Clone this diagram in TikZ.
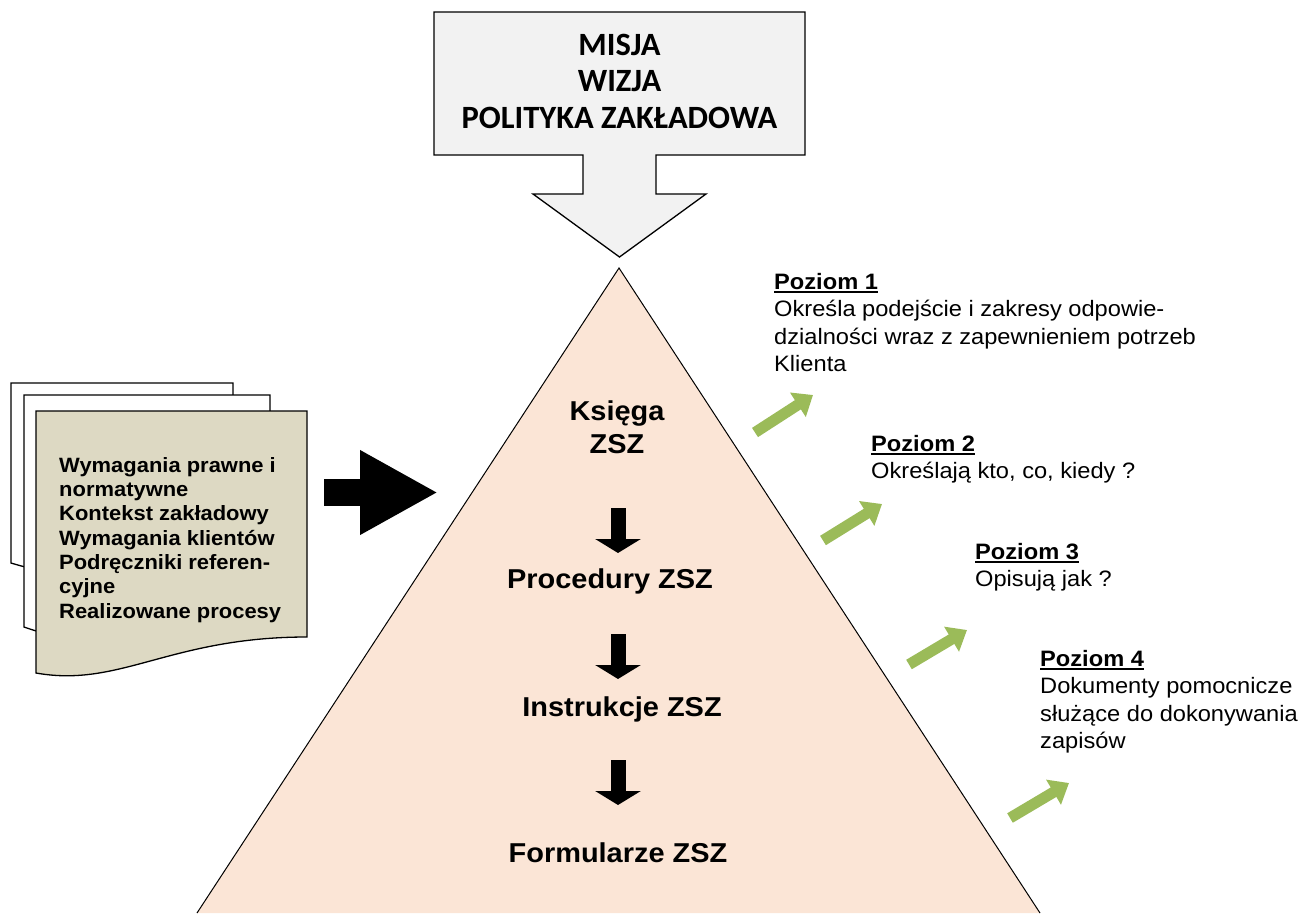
\documentclass[tikz,border=0pt]{standalone}
\usepackage{fontspec}
\setmainfont{Liberation Sans}[FakeStretch=1.06]
\newfontfamily\calibri{Carlito}
\usetikzlibrary{arrows.meta,positioning}
\definecolor{boxgray}{HTML}{F2F2F2}
\definecolor{peach}{HTML}{FBE5D6}
\definecolor{doctan}{HTML}{DDD9C3}
\definecolor{lvlgreen}{HTML}{9BBB59}
\newcommand{\naglowek}[1]{\setbox0=\hbox{\bfseries #1}\rlap{\rule[-3.5pt]{\wd0}{2pt}}\box0}

\begin{document}
\begin{tikzpicture}[x=1pt,y=-1pt,
  level/.style={anchor=north west,inner sep=0pt,align=left,font=\fontsize{22.3}{27.5}\selectfont},
  zsz/.style={inner sep=0pt,align=center,font=\fontsize{27.3}{33}\selectfont\bfseries},
  green arrow/.style={color=lvlgreen,line width=11pt,-{Triangle[length=18pt,width=28pt]}},
  down arrow/.style={line width=15pt,-{Triangle[length=14pt,width=45pt]}},
  page/.style={draw,line width=1.3pt}]
  \useasboundingbox (0,0) rectangle (1303,913);

  \path[fill=boxgray,draw,line width=1.3pt] (434,12) -- (805,12) -- (805,155) -- (656,155) -- (656,194)
    -- (706,194) -- (619.5,257) -- (533,194) -- (583,194) -- (583,155) -- (434,155) -- cycle;
  \node[inner sep=0pt,align=center,font=\fontsize{32.5}{36.5}\calibri\bfseries] (misja) at (619.5,81)
    {MISJA\\WIZJA\\POLITYKA ZAKŁADOWA};

  \fill[peach] (619,268) -- (1040,913) -- (197,913) -- cycle;
  \draw[line width=1pt] (197,913) -- (619,268) -- (1040,913);

  \path[page,fill=white] (11,383) -- (233,383) -- (233,538) .. controls (122,538) and (122,597) .. (11,563) -- cycle;
  \path[page,fill=white] (24,395) -- (270,395) -- (270,594) .. controls (147,594) and (147,670) .. (24,627) -- cycle;
  \path[page,fill=doctan] (36,411) -- (307,411) -- (307,637) .. controls (170,637) and (120,688) .. (36,673) -- cycle;
  \node[anchor=north west,inner sep=0pt,align=left,font=\fontsize{20.7}{24.3}\selectfont\bfseries] (doc) at (59,457)
    {Wymagania prawne i\\normatywne\\Kontekst zakładowy\\Wymagania klientów\\Podręczniki referen-\\cyjne\\Realizowane procesy};

  \node[zsz] (ksiega) at (617,427) {Księga\\ZSZ};
  \node[zsz,anchor=base] (proc)  at (610,588) {Procedury ZSZ};
  \node[zsz,anchor=base] (instr) at (622,716) {Instrukcje ZSZ};
  \node[zsz,anchor=base] (form)  at (618,862) {Formularze ZSZ};

  \coordinate (in_a) at (324,492.5);
  \coordinate (in_b) at (438,492.5);
  \draw[line width=27pt,-{Triangle[length=78pt,width=79pt]}] (in_a) -- (in_b);

  \coordinate (d_1a) at (618,508);
  \coordinate (d_1b) at (618,553);
  \coordinate (d_2a) at (618,634);
  \coordinate (d_2b) at (618,679);
  \coordinate (d_3a) at (618,760);
  \coordinate (d_3b) at (618,805);
  \draw[down arrow] (d_1a) -- (d_1b);
  \draw[down arrow] (d_2a) -- (d_2b);
  \draw[down arrow] (d_3a) -- (d_3b);

  \node[level] (poz_1) at (774,273)
    {\naglowek{Poziom 1}\\Określa podejście i zakresy odpowie-\\dzialności wraz z zapewnieniem potrzeb\\Klienta};
  \node[level] (poz_2) at (871,435) {\naglowek{Poziom 2}\\Określają kto, co, kiedy ?};
  \node[level] (poz_3) at (975,543) {\naglowek{Poziom 3}\\Opisują jak ?};
  \node[level] (poz_4) at (1040,650) {\naglowek{Poziom 4}\\Dokumenty pomocnicze\\służące do dokonywania\\zapisów};

  \coordinate (g_1a) at (755,432.5);
  \coordinate (g_1b) at (813,395);
  \coordinate (g_2a) at (823,540.5);
  \coordinate (g_2b) at (882,504);
  \coordinate (g_3a) at (909,664.5);
  \coordinate (g_3b) at (967,630);
  \coordinate (g_4a) at (1010,818);
  \coordinate (g_4b) at (1069,783);
  \draw[green arrow] (g_1a) -- (g_1b);
  \draw[green arrow] (g_2a) -- (g_2b);
  \draw[green arrow] (g_3a) -- (g_3b);
  \draw[green arrow] (g_4a) -- (g_4b);
\end{tikzpicture}
\end{document}
